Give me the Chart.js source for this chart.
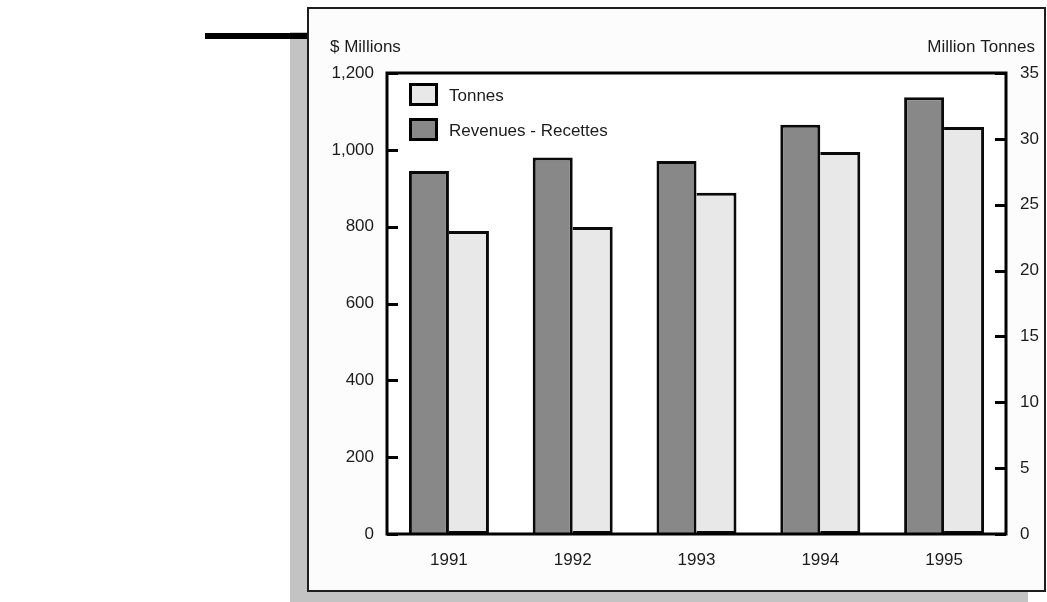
<!DOCTYPE html>
<html lang="en">
<head>
  <meta charset="UTF-8">
  <title>Revenues and Tonnes, 1991-1995</title>
  <script src="https://cdn.jsdelivr.net/npm/chart.js"></script>
  <style>
    html, body {
      margin: 0;
      padding: 0;
      background: #ffffff;
      width: 1047px;
      height: 602px;
      overflow: hidden;
    }
    .rule {
      position: absolute;
      left: 205px;
      top: 33px;
      width: 104px;
      height: 6px;
      background: #000;
    }
    .shadow {
      position: absolute;
      left: 290px;
      top: 32px;
      width: 738px;
      height: 590px;
      background: #c3c3c3;
    }
    .frame {
      position: absolute;
      left: 307px;
      top: 7px;
      width: 739px;
      height: 585px;
      box-sizing: border-box;
      border: 2px solid #1e1e1e;
      background: #fcfcfc;
    }
    #chartWrap {
      position: absolute;
      left: 0;
      top: 0;
      width: 1047px;
      height: 602px;
    }
  </style>
</head>
<body>
<div class="shadow"></div>
<div class="rule"></div>
<div class="frame"></div>
<div id="chartWrap"><canvas id="revChart" width="1047" height="602"></canvas></div>

<script>
  const years = ["1991", "1992", "1993", "1994", "1995"];
  const revenues = [945, 980, 971, 1065, 1137];   // $ millions
  const tonnes = [23.0, 23.3, 25.9, 29.0, 30.9];   // million tonnes

  const FONT = "'Liberation Sans', Arial, Helvetica, sans-serif";
  const INK = "#1c1c1c";

  // white plot area, heavy black frame and inward tick marks
  const plotFrame = {
    id: "plotFrame",
    beforeDatasetsDraw(chart) {
      const { ctx, chartArea: a } = chart;
      ctx.save();
      ctx.fillStyle = "#fff";
      ctx.fillRect(a.left, a.top, a.right - a.left, a.bottom - a.top);
      ctx.restore();
    },
    afterDatasetsDraw(chart) {
      const { ctx, chartArea: a, scales } = chart;
      ctx.save();
      ctx.strokeStyle = "#000";
      ctx.lineWidth = 3;
      ctx.strokeRect(a.left, a.top, a.right - a.left, a.bottom - a.top);

      ctx.beginPath();
      scales.yRev.ticks.forEach(t => {
        const y = Math.round(scales.yRev.getPixelForValue(t.value)) + 0.5;
        ctx.moveTo(a.left, y);
        ctx.lineTo(a.left + 11, y);
      });
      scales.yTon.ticks.forEach(t => {
        const y = Math.round(scales.yTon.getPixelForValue(t.value)) + 0.5;
        ctx.moveTo(a.right - 11, y);
        ctx.lineTo(a.right, y);
      });
      ctx.stroke();

      // axis captions above each axis
      ctx.fillStyle = INK;
      ctx.font = "17px " + FONT;
      ctx.textBaseline = "middle";
      ctx.textAlign = "left";
      ctx.fillText("$ Millions", 330, 47);
      ctx.textAlign = "right";
      ctx.fillText("Million Tonnes", 1035, 47);
      ctx.restore();
    }
  };

  // legend stacked in the top-left corner of the plot, Tonnes first
  const cornerLegend = {
    id: "cornerLegend",
    afterDraw(chart) {
      const { ctx, chartArea: a } = chart;
      const items = chart.data.datasets.slice().reverse();
      ctx.save();
      ctx.font = "17px " + FONT;
      ctx.textBaseline = "middle";
      ctx.textAlign = "left";
      items.forEach((ds, i) => {
        const x = a.left + 22;
        const y = a.top + 10 + i * 35;
        ctx.fillStyle = ds.backgroundColor;
        ctx.fillRect(x, y, 29, 23);
        ctx.strokeStyle = "#000";
        ctx.lineWidth = 3;
        ctx.strokeRect(x + 1.5, y + 1.5, 26, 20);
        ctx.fillStyle = INK;
        ctx.fillText(ds.label, x + 40, y + 13);
      });
      ctx.restore();
    }
  };

  new Chart(document.getElementById("revChart"), {
    type: "bar",
    data: {
      labels: years,
      datasets: [
        {
          label: "Revenues - Recettes",
          data: revenues,
          yAxisID: "yRev",
          backgroundColor: "#888888",
          borderColor: "#0a0a0a",
          borderWidth: 3
        },
        {
          label: "Tonnes",
          data: tonnes,
          yAxisID: "yTon",
          backgroundColor: "#e8e8e8",
          borderColor: "#0a0a0a",
          borderWidth: 3,
          borderSkipped: "left"   // shares the edge with the revenue bar
        }
      ]
    },
    options: {
      responsive: false,
      animation: false,
      devicePixelRatio: 1,
      categoryPercentage: 0.646,
      barPercentage: 1.0,
      layout: {
        padding: { left: 327, right: 1, top: 73, bottom: 28 }
      },
      plugins: {
        legend: { display: false },
        tooltip: { enabled: false }
      },
      scales: {
        x: {
          grid: { display: false, drawTicks: false },
          border: { display: false },
          ticks: { color: INK, font: { family: FONT, size: 17 }, padding: 16 },
          afterFit(scale) { scale.height = 40; }
        },
        yRev: {
          position: "left",
          min: 0,
          max: 1200,
          grid: { display: false, drawTicks: false },
          border: { display: false },
          ticks: { stepSize: 200, color: INK, font: { family: FONT, size: 17 }, padding: 13 },
          afterFit(scale) { scale.width = 60; }
        },
        yTon: {
          position: "right",
          min: 0,
          max: 35,
          grid: { display: false, drawTicks: false },
          border: { display: false },
          ticks: { stepSize: 5, color: INK, font: { family: FONT, size: 17 }, padding: 14 },
          afterFit(scale) { scale.width = 40; }
        }
      }
    },
    plugins: [plotFrame, cornerLegend]
  });
</script>
</body>
</html>
